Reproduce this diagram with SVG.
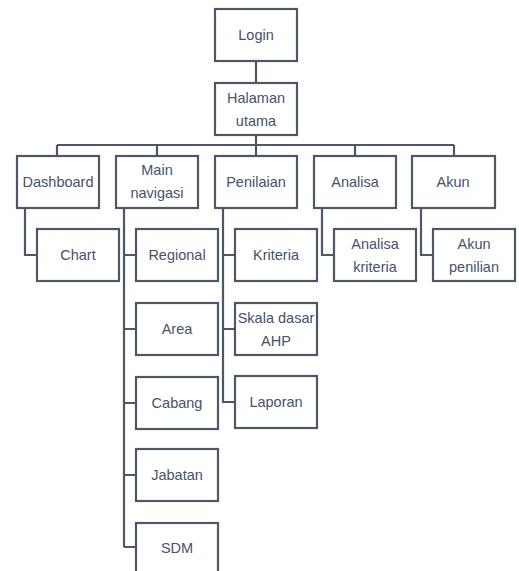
<svg xmlns="http://www.w3.org/2000/svg" width="519" height="571" viewBox="0 0 519 571">
<style>
.b{fill:#fff;stroke:#4d5766;stroke-width:2.2}
.t{font-family:"Liberation Sans",Arial,sans-serif;font-size:14.5px;fill:#45526a;text-anchor:middle}
.c{fill:none;stroke:#4d5766;stroke-width:2.2}
</style>
<rect width="519" height="571" fill="#fff"/>
<g id="connectors">
<path class="c" d="M256 61V83M256 135V145M57 145H454M57 145V156M157 145V156M256 145V156M355 145V156M454 145V156"/>
<path class="c" d="M25 208V255H37"/>
<path class="c" d="M124 208V547M124 255H136M124 329H136M124 403H136M124 475H136M124 547H136"/>
<path class="c" d="M223 208V402H235M223 255H235M223 329H235"/>
<path class="c" d="M322 208V255H334"/>
<path class="c" d="M421 208V255H433"/>
</g>
<g id="login"><rect class="b" x="215" y="9" width="82" height="52"/><text class="t" x="256" y="40">Login</text></g>
<g id="halaman"><rect class="b" x="215" y="83" width="82" height="52"/><text class="t" x="256" y="103">Halaman</text><text class="t" x="256" y="126">utama</text></g>
<g id="dashboard"><rect class="b" x="17" y="156" width="82" height="52"/><text class="t" x="58" y="187">Dashboard</text></g>
<g id="mainnav"><rect class="b" x="116" y="156" width="82" height="52"/><text class="t" x="157" y="175">Main</text><text class="t" x="157" y="198">navigasi</text></g>
<g id="penilaian"><rect class="b" x="215" y="156" width="82" height="52"/><text class="t" x="256" y="187">Penilaian</text></g>
<g id="analisa"><rect class="b" x="314" y="156" width="82" height="52"/><text class="t" x="355" y="187">Analisa</text></g>
<g id="akun"><rect class="b" x="412" y="156" width="83" height="52"/><text class="t" x="453" y="187">Akun</text></g>
<g id="chart"><rect class="b" x="37" y="229" width="82" height="52"/><text class="t" x="78" y="260">Chart</text></g>
<g id="regional"><rect class="b" x="136" y="229" width="82" height="52"/><text class="t" x="177" y="260">Regional</text></g>
<g id="area"><rect class="b" x="136" y="303" width="82" height="52"/><text class="t" x="177" y="334">Area</text></g>
<g id="cabang"><rect class="b" x="136" y="377" width="82" height="52"/><text class="t" x="177" y="408">Cabang</text></g>
<g id="jabatan"><rect class="b" x="136" y="449" width="82" height="52"/><text class="t" x="177" y="480">Jabatan</text></g>
<g id="sdm"><rect class="b" x="136" y="523" width="82" height="52"/><text class="t" x="177" y="553">SDM</text></g>
<g id="kriteria"><rect class="b" x="235" y="229" width="82" height="52"/><text class="t" x="276" y="260">Kriteria</text></g>
<g id="skala"><rect class="b" x="235" y="303" width="82" height="52"/><text class="t" x="276" y="323">Skala dasar</text><text class="t" x="276" y="346">AHP</text></g>
<g id="laporan"><rect class="b" x="235" y="376" width="82" height="52"/><text class="t" x="276" y="407">Laporan</text></g>
<g id="analisakriteria"><rect class="b" x="334" y="229" width="82" height="52"/><text class="t" x="375" y="249">Analisa</text><text class="t" x="375" y="272">kriteria</text></g>
<g id="akunpenilian"><rect class="b" x="433" y="229" width="82" height="52"/><text class="t" x="474" y="249">Akun</text><text class="t" x="474" y="272">penilian</text></g>
</svg>
